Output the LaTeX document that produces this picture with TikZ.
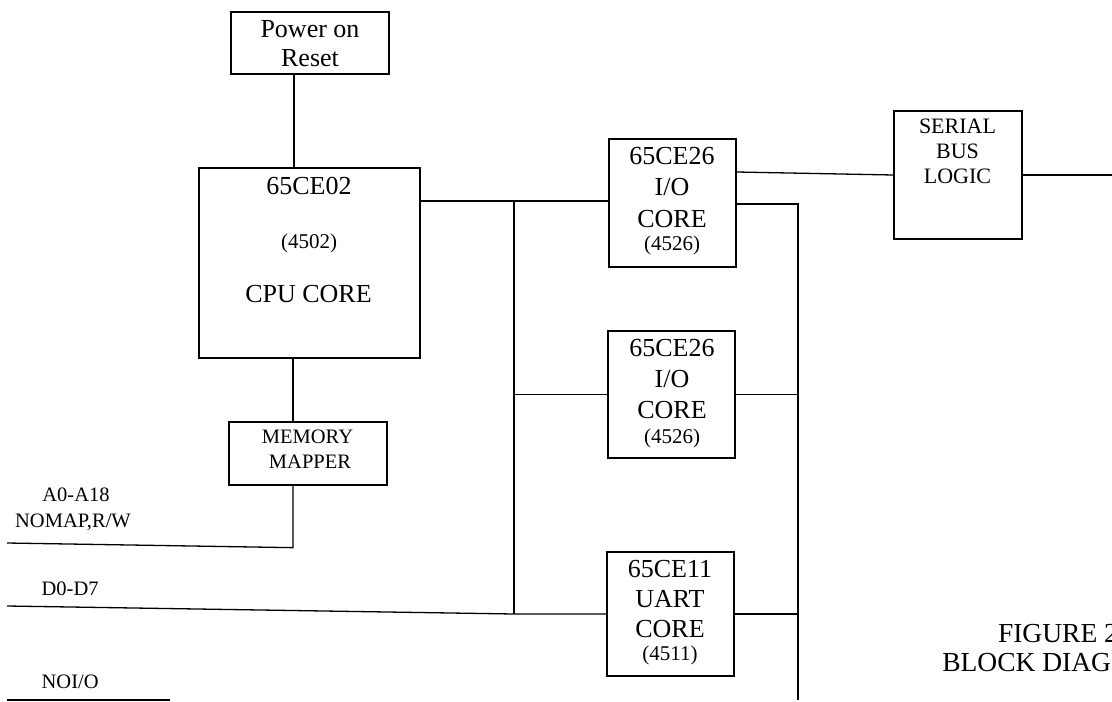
\documentclass[tikz,border=0pt]{standalone}
\usepackage{fontspec}
\setmainfont{Liberation Serif}
\begin{document}
\begin{tikzpicture}[x=1pt,y=-1pt,line width=1.3pt,
  box/.style={draw,inner sep=0pt,line width=1.3pt},
  txt/.style={anchor=base,inner sep=0pt},
  lbl/.style={anchor=base west,inner sep=0pt,font=\fontsize{20.5}{24}\selectfont},
  fbig/.style={font=\fontsize{26}{30}\selectfont},
  fsmall/.style={font=\fontsize{21}{24}\selectfont},
  fcaps/.style={font=\fontsize{20.5}{24}\selectfont},
  fser/.style={font=\fontsize{22}{25}\selectfont},
  ffig/.style={font=\fontsize{27.5}{30}\selectfont}]
\useasboundingbox[fill=white] (0,0) rectangle (1112,702);

% boxes
\node[box,minimum width=158pt,minimum height=62pt] (por) at (310,43) {};
\node[box,minimum width=221pt,minimum height=190pt] (cpu) at (309.5,263) {};
\node[box,minimum width=158pt,minimum height=63pt] (mm) at (308,453.5) {};
\node[box,minimum width=127pt,minimum height=128pt] (io1) at (672.5,203) {};
\node[box,minimum width=127pt,minimum height=127pt] (io2) at (671.5,394.5) {};
\node[box,minimum width=127pt,minimum height=124pt] (uart) at (670.5,614) {};
\node[box,minimum width=128pt,minimum height=128pt] (sbl) at (958,175) {};

% texts in boxes
\node[txt,fbig] (por1) at (310,37) {Power on};
\node[txt,fbig] (por2) at (310,66) {Reset};
\node[txt,fbig] (cpu1) at (309,194) {65CE02};
\node[txt,fsmall] (cpu2) at (309,248) {(4502)};
\node[txt,fbig] (cpu3) at (308.5,302) {CPU CORE};
\node[txt,fcaps] (mm1) at (307.5,443) {MEMORY};
\node[txt,fcaps] (mm2) at (310,468) {MAPPER};
\node[txt,fbig] (ioa1) at (672,164) {65CE26};
\node[txt,fbig] (ioa2) at (672,195) {I/O};
\node[txt,fbig] (ioa3) at (672,227) {CORE};
\node[txt,fsmall] (ioa4) at (672,250) {(4526)};
\node[txt,fbig] (iob1) at (672,356) {65CE26};
\node[txt,fbig] (iob2) at (672,387) {I/O};
\node[txt,fbig] (iob3) at (672,418) {CORE};
\node[txt,fsmall] (iob4) at (672,443) {(4526)};
\node[txt,fbig] (ua1) at (670,577) {65CE11};
\node[txt,fbig] (ua2) at (670,607) {UART};
\node[txt,fbig] (ua3) at (670,637) {CORE};
\node[txt,fsmall] (ua4) at (670,660) {(4511)};
\node[txt,fser] (sb1) at (957.5,133) {SERIAL};
\node[txt,fser] (sb2) at (957.5,158) {BUS};
\node[txt,fser] (sb3) at (957.5,183) {LOGIC};

% left labels
\node[txt,fcaps] (la) at (76,501) {A0-A18};
\node[txt,fcaps] (lb) at (73,527) {NOMAP,R/W};
\node[lbl] (ld) at (41,595) {D0-D7};
\node[lbl] (ln) at (41,688) {NOI/O};

% coordinates for free ends and junctions
\coordinate (abus) at (7,543);
\coordinate (dbus) at (7,606);
\coordinate (j1) at (514,201);
\coordinate (j2) at (514,614);
\coordinate (r1) at (798,204);
\coordinate (r2) at (798,700);
\coordinate (sout) at (1112,175);
\coordinate (n1) at (7,700);
\coordinate (n2) at (170,700);

% connectors
\draw ([xshift=-16pt]por.south) -- ([xshift=-16pt]por.south |- cpu.north);
\draw ([xshift=-15pt]mm.north |- cpu.south) -- ([xshift=-15pt]mm.north);
\draw ([xshift=-15pt]mm.south) -- ++(0,62) -- (abus);
\draw (j1 -| cpu.east) -- (j1) -- (j1 -| io1.west);
\draw (j1) -- (j2);
\draw (io2.west -| j1) -- (io2.west);
\draw (dbus) -- (j2) -- (uart.west);
\draw (io1.east |- r1) -- (r1) -- (r2);
\draw (io2.east) -- (io2.east -| r1);
\draw (uart.east) -- (uart.east -| r1);
\draw ([yshift=31pt]io1.east) -- (sbl.west);
\draw (sbl.east) -- (sout);
\draw (n1) -- (n2);

% caption, cut by the page edge as in the reference
\begin{scope}
\clip (0,0) rectangle (1112,702);
\node[txt,ffig] (fig1) at (1058,642) {FIGURE 2};
\node[txt,ffig] (fig2) at (1058,671) {BLOCK DIAGRAM};
\end{scope}
\end{tikzpicture}
\end{document}
